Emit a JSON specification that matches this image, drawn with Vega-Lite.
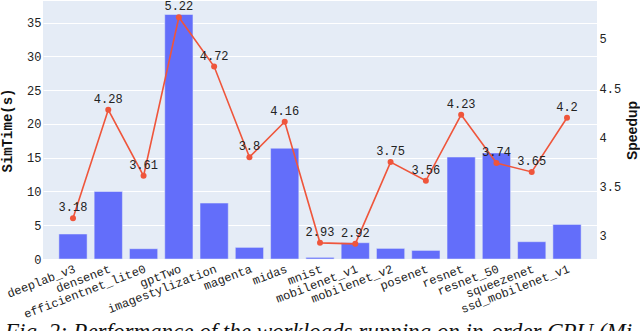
{
  "$schema": "https://vega.github.io/schema/vega-lite/v6.json",
  "width": 554,
  "height": 258,
  "autosize": {"type": "none"},
  "padding": {"left": 43, "top": 1, "right": 43, "bottom": 72},
  "background": "white",
  "title": {
    "text": "Fig. 2: Performance of the workloads running on in-order CPU (Mi",
    "orient": "bottom",
    "anchor": "start",
    "frame": "group",
    "font": "Liberation Serif",
    "fontStyle": "italic",
    "fontWeight": "normal",
    "fontSize": 23,
    "color": "#111",
    "dx": -38,
    "offset": 1
  },
  "config": {
    "view": {"fill": "#E5ECF6", "stroke": null},
    "axis": {
      "labelFont": "Liberation Mono",
      "labelFontSize": 12,
      "labelColor": "#222",
      "domain": false,
      "ticks": false,
      "gridColor": "white",
      "gridWidth": 1,
      "gridOpacity": 1
    }
  },
  "data": {
    "values": [
      {"workload": "deeplab_v3", "simtime": 3.7, "speedup": 3.18},
      {"workload": "densenet", "simtime": 10.0, "speedup": 4.28},
      {"workload": "efficientnet_lite0", "simtime": 1.52, "speedup": 3.61},
      {"workload": "gptTwo", "simtime": 36.2, "speedup": 5.22},
      {"workload": "imagestylization", "simtime": 8.28, "speedup": 4.72},
      {"workload": "magenta", "simtime": 1.72, "speedup": 3.8},
      {"workload": "midas", "simtime": 16.4, "speedup": 4.16},
      {"workload": "mnist", "simtime": 0.24, "speedup": 2.93},
      {"workload": "mobilenet_v1", "simtime": 2.41, "speedup": 2.92},
      {"workload": "mobilenet_v2", "simtime": 1.57, "speedup": 3.75},
      {"workload": "posenet", "simtime": 1.27, "speedup": 3.56},
      {"workload": "resnet", "simtime": 15.1, "speedup": 4.23},
      {"workload": "resnet_50", "simtime": 15.7, "speedup": 3.74},
      {"workload": "squeezenet", "simtime": 2.56, "speedup": 3.65},
      {"workload": "ssd_mobilenet_v1", "simtime": 5.12, "speedup": 4.2}
    ]
  },
  "encoding": {
    "x": {
      "field": "workload",
      "type": "nominal",
      "sort": null,
      "title": null,
      "scale": {"paddingInner": 0.2, "paddingOuter": 0.45},
      "axis": {"labelAngle": -21, "labelAlign": "right", "labelBaseline": "top", "labelPadding": 4, "grid": false}
    }
  },
  "layer": [
    {
      "mark": {"type": "bar", "color": "#636EFA", "stroke": "#E5ECF6", "strokeWidth": 0.5},
      "encoding": {
        "y": {
          "field": "simtime",
          "type": "quantitative",
          "title": "SimTime(s)",
          "scale": {"domain": [0, 38.2], "nice": false, "zero": true},
          "axis": {
            "values": [0, 5, 10, 15, 20, 25, 30, 35],
            "orient": "left",
            "labelPadding": 2,
            "titleFont": "Liberation Mono",
            "titleFontSize": 14,
            "titleFontWeight": "bold",
            "titleColor": "#111",
            "titleAngle": -90,
            "titleX": -36,
            "titleY": 129,
            "titleAlign": "center",
            "titleBaseline": "middle"
          }
        }
      }
    },
    {
      "encoding": {
        "y": {
          "field": "speedup",
          "type": "quantitative",
          "title": "Speedup",
          "scale": {"domain": [2.766, 5.385], "nice": false, "zero": false},
          "axis": {
            "values": [3, 3.5, 4, 4.5, 5],
            "format": "~g",
            "orient": "right",
            "labelPadding": 2,
            "titleFont": "Liberation Sans",
            "titleFontSize": 14,
            "titleFontWeight": "bold",
            "titleColor": "#111",
            "titleAngle": -90,
            "titleX": 35,
            "titleY": 129,
            "titleAlign": "center",
            "titleBaseline": "middle"
          }
        }
      },
      "layer": [
        {
          "mark": {"type": "line", "color": "#EF553B", "strokeWidth": 1.6, "point": {"color": "#EF553B", "size": 36, "filled": true, "opacity": 1}}
        },
        {
          "mark": {"type": "text", "font": "Liberation Mono", "fontSize": 12, "color": "#222", "baseline": "alphabetic", "dy": -7},
          "encoding": {"text": {"field": "speedup", "type": "quantitative"}}
        }
      ]
    }
  ],
  "resolve": {"scale": {"y": "independent"}}
}
